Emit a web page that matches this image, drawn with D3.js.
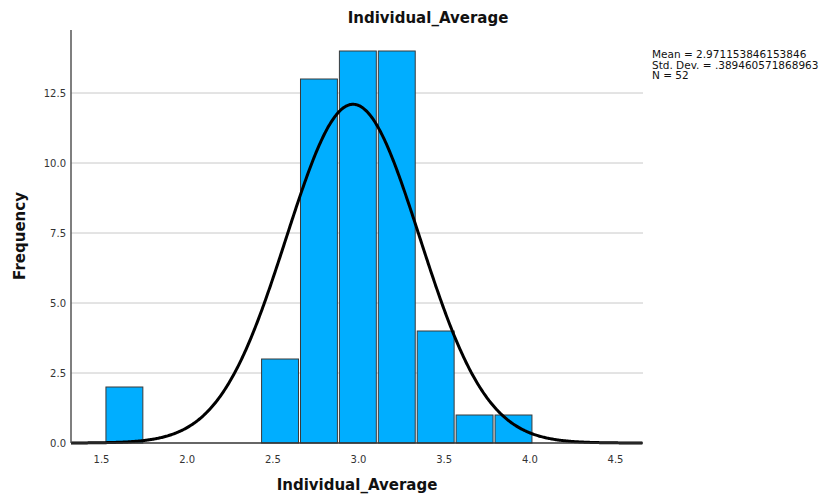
<!DOCTYPE html>
<html>
<head>
<meta charset="utf-8">
<script src="https://cdn.jsdelivr.net/npm/d3@7"></script>
<style>
  body { margin: 0; background: #fff; }
  text { font-family: "DejaVu Sans", sans-serif; }
</style>
</head>
<body>
<svg width="823" height="494"></svg>
<script>
// histogram data
const binStart = 1.523;   // lower edge of first bin
const binWidth = 0.2271;  // width of each bin
const counts = [2, 0, 0, 0, 3, 13, 14, 14, 4, 1, 1];
const xTicks = [1.5, 2.0, 2.5, 3.0, 3.5, 4.0, 4.5];
const yTicks = [0, 2.5, 5.0, 7.5, 10.0, 12.5];
const statLines = ["Mean = 2.971153846153846", "Std. Dev. = .389460571868963", "N = 52"];
const mean = 2.971153846153846, sd = 0.389460571868963, n = 52;

const svg = d3.select("svg");
const plotL = 71, plotR = 643, plotT = 30, plotB = 443;

const x = d3.scaleLinear().domain([1.3249, 4.6634]).range([plotL, plotR]);
const y = d3.scaleLinear().domain([0, 14.75]).range([plotB, plotT]);

const bins = counts.map((c, i) => ({ x0: binStart + i * binWidth, x1: binStart + (i + 1) * binWidth, count: c }));

// gridlines
svg.append("g")
   .selectAll("line")
   .data(yTicks.filter(d => d > 0))
   .enter().append("line")
   .attr("x1", plotL).attr("x2", plotR)
   .attr("y1", d => y(d)).attr("y2", d => y(d))
   .attr("stroke", "#c8c8c8").attr("stroke-width", 1);

// bars
svg.append("g")
   .selectAll("rect")
   .data(bins.filter(d => d.count > 0))
   .enter().append("rect")
   .attr("x", d => x(d.x0) + 1)
   .attr("y", d => y(d.count))
   .attr("width", d => x(d.x1) - x(d.x0) - 2)
   .attr("height", d => y(0) - y(d.count))
   .attr("fill", "#00aeff")
   .attr("stroke", "#3a3a3a")
   .attr("stroke-width", 1);

// normal curve scaled to counts
const curveX = d3.range(1.3249, 4.6634, 0.005);
const curve = d3.line()
  .x(d => x(d))
  .y(d => y(n * binWidth * Math.exp(-0.5 * ((d - mean) / sd) ** 2) / (sd * Math.sqrt(2 * Math.PI))));

svg.append("path")
   .datum(curveX)
   .attr("fill", "none")
   .attr("stroke", "#000")
   .attr("stroke-width", 3)
   .attr("d", curve);

// axis lines
svg.append("line")
   .attr("x1", plotL).attr("x2", plotL).attr("y1", plotT).attr("y2", plotB)
   .attr("stroke", "#555").attr("stroke-width", 1.5);
svg.append("line")
   .attr("x1", plotL).attr("x2", plotR).attr("y1", plotB).attr("y2", plotB)
   .attr("stroke", "#333").attr("stroke-width", 1.5);

// x tick labels
svg.append("g")
   .attr("transform", `translate(0,${plotB})`)
   .call(d3.axisBottom(x).tickValues(xTicks).tickFormat(d3.format(".1f")).tickSize(0).tickPadding(13))
   .call(g => g.select(".domain").remove())
   .selectAll("text")
   .style("font-size", "10px")
   .attr("fill", "#333");

// y tick labels
svg.append("g")
   .attr("transform", `translate(${plotL},0)`)
   .call(d3.axisLeft(y).tickValues(yTicks).tickFormat(d3.format(".1f")).tickSize(0).tickPadding(5))
   .call(g => g.select(".domain").remove())
   .selectAll("text")
   .style("font-size", "10px")
   .attr("fill", "#333");

// title
svg.append("text")
   .attr("x", 428).attr("y", 23)
   .attr("text-anchor", "middle")
   .style("font-size", "15px").style("font-weight", "bold")
   .attr("fill", "#111")
   .text("Individual_Average");

// x label
svg.append("text")
   .attr("x", 357).attr("y", 490)
   .attr("text-anchor", "middle")
   .style("font-size", "15px").style("font-weight", "bold")
   .attr("fill", "#111")
   .text("Individual_Average");

// y label
svg.append("text")
   .attr("transform", `translate(25,236) rotate(-90)`)
   .attr("text-anchor", "middle")
   .style("font-size", "15px").style("font-weight", "bold")
   .attr("fill", "#111")
   .text("Frequency");

// stats box
svg.append("g")
   .selectAll("text")
   .data(statLines)
   .enter().append("text")
   .attr("x", 652)
   .attr("y", (d, i) => 58 + i * 10.5)
   .style("font-size", "10.5px")
   .attr("fill", "#111")
   .text(d => d);
</script>
</body>
</html>
